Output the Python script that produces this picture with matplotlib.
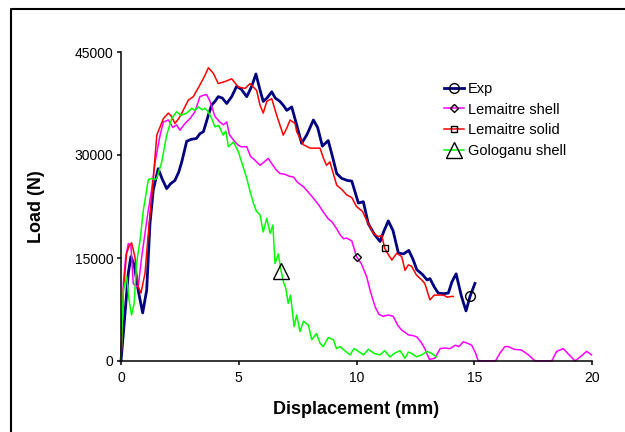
import matplotlib

matplotlib.use("Agg")
import matplotlib.pyplot as plt
from matplotlib.lines import Line2D

# -- data ------------------------------------------------------------------

exp_x = [0, 0.17, 0.31, 0.42, 0.56, 0.73, 0.92, 1.09, 1.23, 1.37, 1.58, 1.75, 1.94,
         2.1, 2.29, 2.45, 2.58, 2.79, 3.0, 3.2, 3.35, 3.5, 3.71, 3.85, 3.99, 4.13,
         4.3, 4.49, 4.7, 4.91, 5.1, 5.34, 5.55, 5.73, 5.9, 6.04, 6.2, 6.4, 6.55,
         6.75, 6.9, 7.04, 7.25, 7.45, 7.67, 7.9, 8.17, 8.35, 8.55, 8.8, 9.0, 9.16,
         9.37, 9.6, 9.8, 10.08, 10.29, 10.5, 10.75, 11.0, 11.15, 11.35, 11.55, 11.78,
         12.0, 12.22, 12.4, 12.56, 12.8, 13.0, 13.12, 13.3, 13.47, 13.7, 13.9, 14.05,
         14.23, 14.45, 14.65, 14.82, 15.03]
exp_y = [0, 6900, 12800, 15200, 14000, 10300, 7000, 10300, 20000, 24900, 28000, 26500,
         25100, 25800, 26300, 27500, 29000, 32000, 32300, 32400, 33100, 33400, 35800,
         37300, 37800, 38500, 38300, 37500, 38500, 40000, 39600, 38500, 40000, 41800,
         39500, 37800, 38300, 39200, 38300, 37800, 37200, 36500, 37000, 34500, 31700,
         33000, 35100, 34000, 31300, 32100, 29500, 27300, 26600, 26300, 26200, 23000,
         23200, 20000, 18500, 17400, 18800, 20400, 19000, 15700, 15600, 16100, 14800,
         13300, 12600, 11800, 12000, 10800, 9900, 9800, 9900, 11500, 12700, 9500, 7300,
         9400, 11300]

lshell_x = [0, 0.1, 0.2, 0.31, 0.42, 0.52, 0.6, 0.73, 0.88, 1.02, 1.16, 1.3, 1.45,
            1.66, 1.8, 2.01, 2.2, 2.36, 2.5, 2.72, 2.93, 3.14, 3.35, 3.5, 3.64, 3.78,
            3.99, 4.2, 4.34, 4.49, 4.6, 4.77, 4.95, 5.1, 5.34, 5.5, 5.7, 5.9, 6.05,
            6.25, 6.45, 6.6, 6.75, 6.95, 7.15, 7.32, 7.5, 7.74, 7.95, 8.17, 8.4, 8.59,
            8.8, 8.95, 9.15, 9.3, 9.45, 9.58, 9.8, 10.0, 10.2, 10.43, 10.6, 10.79,
            10.95, 11.14, 11.35, 11.56, 11.75, 11.92, 12.05, 12.2, 12.4, 12.56, 12.75,
            12.9, 13.09, 13.33, 13.55, 13.75, 13.97, 14.2, 14.35, 14.53, 14.7, 14.89,
            15.05, 15.17, 15.5, 15.9, 16.1, 16.3, 16.45, 16.7, 17.0, 17.3, 17.58, 18.0,
            18.29, 18.5, 18.78, 19.0, 19.28, 19.5, 19.77, 19.98]
lshell_y = [0, 11300, 15200, 17100, 16900, 11300, 11000, 10800, 15200, 18600, 22000,
            24900, 29000, 32900, 34800, 35100, 34000, 34400, 33600, 34600, 35300, 36300,
            38500, 38700, 38800, 37800, 35600, 34800, 34400, 34800, 33000, 32200, 31500,
            31200, 31200, 29800, 29200, 28500, 28900, 29500, 28500, 27800, 27300, 27200,
            26900, 26800, 26000, 25400, 24600, 23700, 22700, 21700, 20700, 20300, 19300,
            18400, 17800, 17900, 17500, 15200, 14200, 12300, 10000, 7900, 6800, 6500,
            6700, 6500, 5200, 4500, 4200, 3800, 3700, 3500, 2700, 1800, 250, 400, 1800,
            1900, 1800, 2300, 2100, 2800, 2600, 2300, 1200, 0, 0, 0, 1200, 2100, 2100,
            1700, 1600, 900, 0, 0, 0, 1400, 1800, 1000, 0, 600, 1400, 900]

lsolid_x = [0, 0.1, 0.24, 0.35, 0.45, 0.59, 0.73, 0.85, 1.02, 1.16, 1.33, 1.52, 1.8,
            2.01, 2.15, 2.29, 2.45, 2.58, 2.86, 3.07, 3.35, 3.55, 3.71, 3.92, 4.13,
            4.42, 4.7, 4.98, 5.27, 5.48, 5.76, 5.9, 6.04, 6.19, 6.4, 6.61, 6.89, 7.05,
            7.18, 7.39, 7.46, 7.74, 8.03, 8.17, 8.45, 8.6, 8.73, 8.87, 9.16, 9.37,
            9.58, 9.8, 10.0, 10.25, 10.43, 10.71, 10.93, 11.07, 11.2, 11.28, 11.5,
            11.71, 11.92, 12.06, 12.2, 12.34, 12.55, 12.77, 12.9, 13.12, 13.3, 13.55,
            13.69, 13.85, 14.04, 14.11]
lsolid_y = [0, 10300, 15700, 16800, 17200, 15200, 10800, 9900, 12800, 18600, 24900,
            32900, 35300, 36100, 35600, 34600, 35300, 36100, 38000, 38500, 40200, 41500,
            42700, 41900, 40400, 40700, 41100, 39900, 39700, 40400, 39400, 37300, 36100,
            37800, 38200, 35800, 32900, 34000, 35100, 34600, 33400, 31500, 31000, 31000,
            31000, 29500, 28500, 29000, 25600, 25000, 24200, 23800, 22500, 21800, 20500,
            18600, 18100, 18300, 16400, 15900, 14700, 15700, 15200, 13200, 14000, 13800,
            12500, 11800, 11300, 8900, 9600, 9600, 9600, 9300, 9400, 9400]

gshell_x = [0, 0.1, 0.24, 0.34, 0.45, 0.56, 0.66, 0.81, 0.95, 1.09, 1.16, 1.3, 1.44,
            1.52, 1.73, 1.94, 2.15, 2.36, 2.55, 2.79, 3.0, 3.14, 3.28, 3.45, 3.57, 3.7,
            3.85, 3.99, 4.15, 4.34, 4.45, 4.56, 4.77, 4.98, 5.12, 5.34, 5.48, 5.62,
            5.75, 5.9, 6.04, 6.19, 6.33, 6.45, 6.54, 6.68, 6.8, 6.9, 7.0, 7.1, 7.2,
            7.35, 7.46, 7.6, 7.75, 7.96, 8.1, 8.3, 8.45, 8.59, 8.8, 9.02, 9.15, 9.3,
            9.5, 9.72, 9.9, 10.08, 10.3, 10.5, 10.75, 11.0, 11.2, 11.42, 11.6, 11.85,
            12.06, 12.2, 12.34, 12.55, 12.77, 13.0, 13.19, 13.4]
gshell_y = [0, 10300, 12300, 8900, 6700, 8400, 14200, 17600, 22000, 24900, 26400,
            26600, 26400, 26600, 29000, 32900, 35300, 36300, 35800, 36100, 36800, 36500,
            37000, 36600, 36800, 36300, 35300, 34100, 34300, 32900, 33500, 31200, 31900,
            30500, 29000, 26600, 24700, 23000, 21800, 21300, 18800, 20800, 18600, 19800,
            14200, 15600, 13100, 11500, 10600, 8400, 9600, 5000, 6700, 4300, 5800, 5200,
            3100, 4000, 2600, 2100, 3400, 3100, 1800, 2100, 1500, 900, 1800, 1400, 900,
            1700, 1100, 900, 1500, 600, 1100, 1500, 400, 1300, 1100, 600, 900, 1400,
            1100, 600]

x_ticks = [0, 5, 10, 15, 20]
y_ticks = [0, 15000, 30000, 45000]

# -- styling -----------------------------------------------------------------

plt.rcParams.update({
    "font.family": ["Liberation Sans", "DejaVu Sans"],
    "font.size": 10,
    "axes.spines.top": False,
    "axes.spines.right": False,
    "axes.linewidth": 1.1,
    "xtick.major.size": 3,
    "ytick.major.size": 3,
    "xtick.major.pad": 4,
    "ytick.major.pad": 2.5,
})

# (x, y, colour, linewidth, marker, marker size, marker index, label)
series = [
    (exp_x, exp_y, "#000080", 2.0, "o", 7, exp_x.index(14.82), "Exp"),
    (lshell_x, lshell_y, "#ff00ff", 1.1, "D", 4.5, lshell_x.index(10.0), "Lemaitre shell"),
    (lsolid_x, lsolid_y, "#ff0000", 1.1, "s", 4, lsolid_x.index(11.2), "Lemaitre solid"),
    (gshell_x, gshell_y, "#00ff00", 1.1, "^", 12, gshell_x.index(6.8), "Gologanu shell"),
]

fig = plt.figure(figsize=(6.25, 4.32), dpi=100)
ax = fig.add_axes([121 / 625, 1 - 361 / 432, 471 / 625, 309 / 432])

for x, y, c, lw, mk, ms, idx, lab in series:
    ax.plot(x, y, color=c, lw=lw, marker=mk, ms=ms, markevery=[idx],
            mfc="none", mec="black", mew=1.0, label=lab, clip_on=False)

ax.set_xlim(0, 20)
ax.set_ylim(0, 45000)
ax.set_xticks(x_ticks)
ax.set_yticks(y_ticks)
ax.tick_params(direction="out", colors="black", width=1.1)
ax.set_xlabel("Displacement (mm)", fontsize=13, fontweight="bold", labelpad=12)
ax.set_ylabel("Load (N)", fontsize=13, fontweight="bold", labelpad=21)

ax.legend(loc="upper left", bbox_to_anchor=(444 / 625, 1 - 82 / 432),
          bbox_transform=fig.transFigure, frameon=False, fontsize=10.5,
          handlelength=1.4, handletextpad=0.25, labelspacing=0.45,
          borderpad=0, borderaxespad=0)

# outer chart-area frame (only the top and left edges fall inside the image)
x0, y0 = 11 / 625, 1 - 9 / 432
fig.add_artist(Line2D([x0, x0, 1.0], [0.0, y0, y0], transform=fig.transFigure,
                      color="black", lw=1.5))

fig.savefig("out.png", dpi=100)
